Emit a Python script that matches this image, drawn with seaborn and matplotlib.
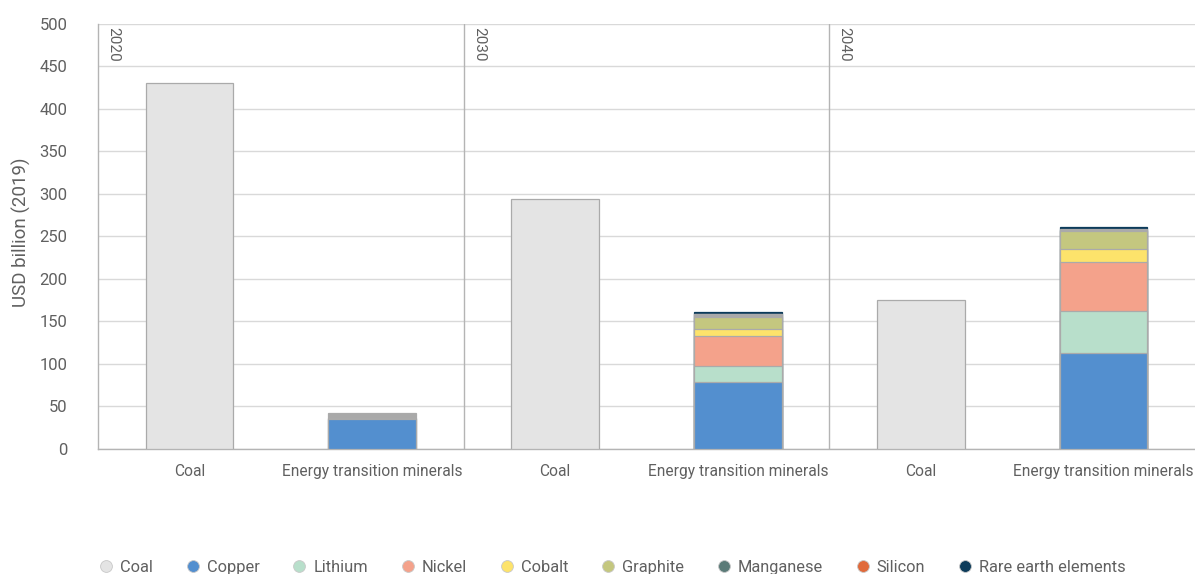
import matplotlib
matplotlib.use("Agg")
import matplotlib.pyplot as plt
from matplotlib.lines import Line2D
import seaborn as sns
import pandas as pd

# ---- data (USD billion, 2019 prices) ----
years = ["2020", "2030", "2040"]
bar_kinds = ["Coal", "Energy transition minerals"]

coal = [430, 294, 175]
copper = [35, 79, 112.5]
lithium = [0, 18.5, 49.5]
nickel = [1.5, 35.5, 58]
cobalt = [0, 8, 15.5]
graphite = [0, 14, 21.5]
other = [5.5, 3.5, 0.5]
manganese = [0, 0.5, 0.5]
silicon = [0, 0, 1]
rare_earth = [0, 2.2, 2.5]

mineral_names = ["Copper", "Lithium", "Nickel", "Cobalt", "Graphite",
                 "Other", "Manganese", "Silicon", "Rare earth elements"]
mineral_values = [copper, lithium, nickel, cobalt, graphite,
                  other, manganese, silicon, rare_earth]

colors = {
    "Coal": "#e4e4e4",
    "Copper": "#538fcf",
    "Lithium": "#b8dfcb",
    "Nickel": "#f4a28b",
    "Cobalt": "#fde36b",
    "Graphite": "#c4c77f",
    "Other": "#a9a9a9",
    "Manganese": "#5b7b78",
    "Silicon": "#e06a3b",
    "Rare earth elements": "#0c3b5a",
}
legend_names = ["Coal", "Copper", "Lithium", "Nickel", "Cobalt", "Graphite",
                "Manganese", "Silicon", "Rare earth elements"]

# ---- build stacked tops ----
slots = [f"{y}|{k}" for y in years for k in bar_kinds]
rows = []
for i, y in enumerate(years):
    rows.append({"slot": f"{y}|Coal", "layer": "Coal", "top": coal[i]})
    cum = 0.0
    for name, vals in zip(mineral_names, mineral_values):
        cum += vals[i]
        if vals[i] > 0:
            rows.append({"slot": f"{y}|Energy transition minerals",
                         "layer": name, "top": cum})
df = pd.DataFrame(rows)

sns.set_theme(style="white")
plt.rcParams["font.family"] = ["Roboto", "DejaVu Sans"]
text_color = "#606060"
line_color = "#b4b4b4"

fig = plt.figure(figsize=(11.95, 5.74), dpi=100)
ax = fig.add_axes([0.082, 0.2178, 0.918, 0.7404])

# draw from the outermost layer inward so each layer overlays the one below
draw_order = ["Coal"] + mineral_names[::-1]
for layer in draw_order:
    sub = df[df["layer"] == layer]
    if sub.empty:
        continue
    edge = colors[layer] if layer == "Rare earth elements" else "#aaaaaa"
    sns.barplot(data=sub, x="slot", y="top", order=slots, color=colors[layer],
                width=0.48, edgecolor=edge, linewidth=0.9,
                saturation=1, ax=ax, zorder=3, errorbar=None)

ax.set_xlim(-0.5, len(slots) - 0.5)
ax.set_ylim(0, 500)
ax.set_yticks(range(0, 501, 50))
ax.yaxis.grid(True, color="#d9d9d9", linewidth=1, zorder=0)
ax.xaxis.grid(False)
ax.set_axisbelow(True)

ax.set_xticks(range(len(slots)))
ax.set_xticklabels([s.split("|")[1] for s in slots], fontsize=11.2, color=text_color)
ax.set_xticks([-0.5, 1.5, 3.5, 5.5], minor=True)
ax.tick_params(axis="x", which="major", length=0, pad=11)
ax.tick_params(axis="x", which="minor", length=8, color=line_color, width=1)
ax.tick_params(axis="y", length=0, pad=22, labelsize=12, labelcolor=text_color)
ax.set_xlabel("")
ax.set_ylabel("USD billion (2019)", fontsize=13.5, color=text_color)
ax.yaxis.set_label_coords(-0.061, 0.51)

for side in ["top", "right"]:
    ax.spines[side].set_visible(False)
for side in ["left", "bottom"]:
    ax.spines[side].set_color(line_color)
    ax.spines[side].set_linewidth(1)

# panel separators and year labels
for j, y in enumerate(years):
    x0 = -0.5 + 2 * j
    if j > 0:
        ax.axvline(x0, color=line_color, linewidth=1, zorder=2)
    ax.text(x0 + 0.045, 497, y, rotation=270, ha="left", va="top",
            fontsize=11, color=text_color)

handles = [Line2D([0], [0], marker="o", linestyle="none", markersize=8.5,
                  markerfacecolor=colors[n], markeredgecolor="#c8c8c8",
                  markeredgewidth=0.6) for n in legend_names]
fig.legend(handles, legend_names, loc="center", ncol=9, frameon=False,
           bbox_to_anchor=(0.512, 0.012), fontsize=11.8, labelcolor=text_color,
           handletextpad=0.35, columnspacing=1.93, handlelength=1.0)

fig.savefig("out.png", dpi=100)
